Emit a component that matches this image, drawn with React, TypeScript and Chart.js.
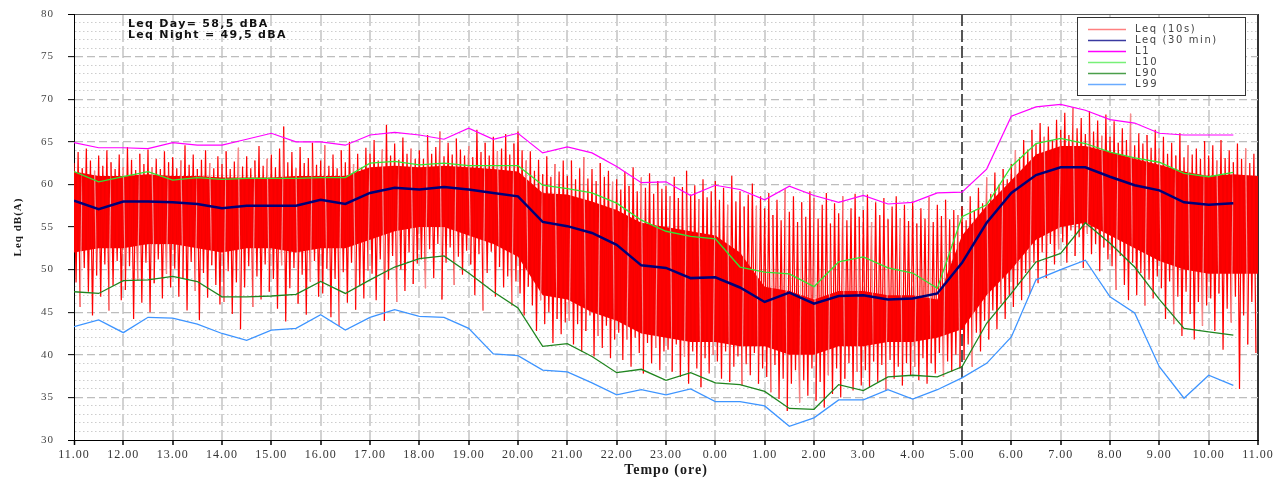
import React, { useEffect, useRef } from "react";
import { Chart, registerables } from "chart.js";

Chart.register(...registerables);

// ---- tick labels / texts ----
const hourLabels = [
  "11.00", "12.00", "13.00", "14.00", "15.00", "16.00", "17.00", "18.00", "19.00", "20.00",
  "21.00", "22.00", "23.00", "0.00", "1.00", "2.00", "3.00", "4.00", "5.00", "6.00",
  "7.00", "8.00", "9.00", "10.00", "11.00",
];
const yMajorTicks = [30, 35, 40, 45, 50, 55, 60, 65, 70, 75, 80];
const seriesNames = ["Leq (10s)", "Leq (30 min)", "L1", "L10", "L90", "L99"];
const infoLines = ["Leq Day= 58,5 dBA", "Leq Night = 49,5 dBA"];
const xTitle = "Tempo (ore)";
const yTitle = "Leq dB(A)";

// ---- 30-minute statistics (11:00 ... 10:30) ----
const leq30 = [
  58.1, 57.1, 58.0, 58.0, 57.9, 57.7, 57.2, 57.5, 57.5, 57.5, 58.2, 57.7,
  59.0, 59.6, 59.4, 59.7, 59.4, 59.0, 58.6, 55.6, 55.1, 54.3, 52.9, 50.5,
  50.2, 49.0, 49.1, 47.9, 46.2, 47.3, 46.0, 46.9, 47.0, 46.5, 46.6, 47.2,
  50.8, 55.5, 59.0, 61.1, 62.0, 62.0, 60.9, 59.9, 59.3, 57.9, 57.6, 57.8,
];
const l1 = [
  64.9, 64.3, 64.3, 64.2, 64.9, 64.6, 64.6, 65.3, 66.0, 65.0, 65.0, 64.6,
  65.8, 66.1, 65.8, 65.3, 66.6, 65.3, 66.0, 63.7, 64.4, 63.7, 62.1, 60.2,
  60.3, 58.7, 59.9, 59.4, 58.2, 59.8, 58.7, 57.9, 58.7, 57.7, 57.9, 59.0,
  59.1, 61.8, 68.0, 69.1, 69.4, 68.7, 67.6, 67.2, 66.0, 65.8, 65.8, 65.8,
];
const l10 = [
  61.5, 60.3, 60.9, 61.5, 60.5, 60.8, 60.6, 60.7, 60.7, 60.7, 60.8, 60.8,
  62.5, 62.7, 62.3, 62.5, 62.2, 62.2, 62.2, 59.9, 59.5, 59.0, 57.8, 55.8,
  54.5, 53.9, 53.6, 50.3, 49.7, 49.5, 48.0, 50.9, 51.5, 50.2, 49.6, 47.8,
  56.2, 57.6, 62.1, 64.8, 65.4, 64.8, 63.8, 63.1, 62.6, 61.3, 60.9, 61.4,
];
const l90 = [
  47.4, 47.2, 48.7, 48.8, 49.2, 48.6, 46.8, 46.8, 46.9, 47.1, 48.6, 47.2,
  48.8, 50.3, 51.3, 51.6, 49.6, 47.4, 45.5, 41.0, 41.3, 39.8, 37.9, 38.3,
  37.0, 37.9, 36.7, 36.5, 35.7, 33.7, 33.6, 36.5, 35.8, 37.4, 37.6, 37.4,
  38.6, 43.7, 47.2, 50.9, 51.9, 55.5, 53.1, 50.3, 46.5, 43.1, 42.7, 42.3,
];
const l99 = [
  43.3, 44.1, 42.6, 44.4, 44.3, 43.6, 42.5, 41.7, 42.9, 43.1, 44.7, 42.9,
  44.4, 45.3, 44.5, 44.4, 43.1, 40.1, 39.9, 38.2, 38.0, 36.7, 35.3, 35.9,
  35.3, 36.0, 34.5, 34.5, 34.0, 31.6, 32.6, 34.7, 34.7, 35.9, 34.8, 35.9,
  37.3, 39.0, 42.1, 48.8, 50.0, 51.1, 46.8, 44.9, 38.6, 34.9, 37.6, 36.4,
];

// ---- Leq (10s): dense core of the trace, per 30 min (11:00 ... 11:00) ----
const leq10sCoreHigh = [
  61.5, 61.0, 61.0, 61.2, 61.0, 61.0, 60.8, 60.8, 60.8, 61.0, 61.0, 61.0,
  62.0, 62.2, 62.0, 62.2, 62.0, 61.8, 61.5, 59.0, 58.8, 58.0, 57.0, 55.5,
  55.0, 54.5, 54.0, 52.0, 48.0, 47.5, 46.5, 47.5, 47.5, 47.0, 47.0, 46.5,
  54.0, 57.5, 60.5, 63.5, 64.5, 64.5, 63.8, 63.0, 62.3, 61.5, 61.0, 61.2, 61.0,
];
const leq10sCoreLow = [
  52.0, 52.5, 52.5, 53.0, 53.0, 52.5, 52.0, 52.5, 52.5, 52.0, 52.5, 52.5,
  53.5, 54.5, 55.0, 55.0, 54.0, 53.0, 51.5, 47.0, 46.5, 45.0, 44.0, 42.5,
  42.0, 41.5, 41.5, 41.0, 41.0, 40.0, 40.0, 41.0, 41.0, 41.5, 41.5, 42.0,
  43.0, 47.0, 50.0, 53.5, 55.0, 55.5, 54.0, 52.5, 51.0, 50.0, 49.5, 49.5, 49.5,
];
// ---- Leq (10s): spike extremes per 5 min (one row per hour, 11:00 ... 10:55) ----
const leq10sSpikeHigh = [
  62.5, 63.8, 61.9, 64.2, 62.8, 61.6, 63.4, 62.2, 64.0, 62.6, 61.8, 63.5,
  62.0, 64.4, 62.9, 61.7, 63.6, 62.4, 64.1, 62.0, 63.0, 61.8, 63.9, 62.6,
  63.2, 61.9, 62.8, 64.6, 62.3, 63.5, 61.8, 62.9, 64.0, 62.5, 61.9, 63.3,
  62.4, 63.9, 61.8, 62.7, 64.3, 62.1, 63.3, 61.9, 62.8, 64.5, 62.2, 63.0,
  63.5, 62.0, 64.2, 66.8, 62.6, 63.8, 61.9, 64.4, 62.5, 63.1, 64.9, 62.3,
  62.8, 64.6, 62.2, 63.5, 61.9, 64.0, 62.6, 65.0, 62.4, 63.6, 62.0, 64.3,
  63.6, 65.2, 62.8, 64.1, 67.0, 63.4, 64.8, 62.9, 65.5, 63.6, 64.2, 63.0,
  64.0, 63.0, 65.8, 63.6, 64.4, 66.2, 63.3, 64.9, 63.5, 65.4, 64.1, 63.4,
  64.5, 63.2, 66.4, 63.8, 64.9, 63.4, 65.6, 63.9, 64.2, 65.9, 63.5, 64.8,
  66.2, 64.0, 62.8, 63.9, 61.6, 62.9, 61.2, 63.3, 60.9, 62.4, 61.5, 62.8,
  61.0, 62.8, 60.6, 61.9, 63.2, 60.7, 61.8, 60.4, 62.5, 60.9, 61.6, 60.3,
  60.6, 59.4, 61.5, 59.8, 62.0, 59.2, 60.8, 59.6, 61.3, 58.9, 60.4, 59.5,
  59.8, 58.6, 60.9, 58.4, 59.7, 61.6, 58.8, 59.9, 58.3, 60.6, 58.5, 59.2,
  60.4, 58.2, 59.6, 57.6, 61.0, 58.0, 59.2, 57.4, 58.8, 60.1, 57.5, 58.6,
  57.2, 59.0, 56.4, 58.2, 55.8, 59.4, 56.8, 58.6, 55.6, 57.9, 56.2, 59.2,
  58.4, 56.0, 57.6, 59.0, 55.4, 57.8, 56.6, 58.6, 55.8, 57.2, 58.9, 56.2,
  57.0, 58.8, 55.6, 57.9, 56.4, 58.4, 55.9, 57.4, 58.6, 56.0, 57.6, 55.7,
  58.0, 55.4, 57.2, 56.0, 58.5, 55.6, 57.6, 56.3, 58.2, 55.9, 57.0, 56.4,
  57.4, 55.8, 58.6, 56.9, 59.6, 57.8, 60.8, 58.9, 61.4, 60.0, 61.8, 60.6,
  62.4, 64.0, 63.2, 65.2, 64.1, 66.4, 64.8, 67.2, 65.6, 66.8, 65.2, 67.6,
  66.4, 68.4, 65.8, 69.0, 66.6, 67.8, 65.9, 68.6, 66.2, 67.5, 65.7, 68.2,
  65.6, 67.4, 64.9, 66.6, 65.2, 68.3, 64.6, 66.0, 64.8, 65.8, 64.3, 66.4,
  64.2, 65.6, 63.6, 64.9, 63.4, 66.0, 63.2, 64.6, 63.5, 64.2, 63.0, 65.1,
  63.4, 64.6, 62.8, 65.2, 63.1, 64.0, 62.6, 64.8, 63.0, 64.2, 62.5, 63.6,
];
const leq10sSpikeLow = [
  48.5, 45.6, 50.2, 47.4, 44.6, 49.3, 46.8, 50.6, 45.2, 48.1, 51.0, 46.4,
  47.6, 50.4, 44.2, 48.8, 46.1, 50.8, 45.0, 48.4, 51.2, 46.6, 49.5, 47.9,
  50.1, 46.8, 49.0, 45.2, 50.9, 47.5, 44.1, 49.6, 46.7, 50.5, 48.2, 45.9,
  46.2, 49.8, 44.8, 48.5, 43.0, 47.9, 50.4, 45.6, 49.2, 46.5, 50.6, 47.4,
  48.9, 45.4, 50.5, 43.9, 47.8, 50.2, 46.0, 49.4, 44.7, 48.6, 51.0, 46.8,
  47.2, 50.1, 44.4, 48.9, 43.4, 49.7, 46.1, 50.8, 45.3, 48.2, 46.6, 49.9,
  49.5, 46.4, 51.2, 44.0, 48.8, 51.6, 46.2, 50.0, 47.5, 52.0, 48.3, 50.7,
  51.2, 47.8, 52.4, 49.0, 53.0, 46.5, 50.8, 52.6, 48.2, 51.5, 49.4, 52.2,
  50.6, 47.0, 51.8, 45.2, 49.6, 52.1, 46.8, 50.3, 47.9, 49.2, 45.8, 48.6,
  47.2, 44.6, 48.0, 45.8, 42.8, 46.4, 43.6, 45.0, 41.4, 44.2, 42.4, 43.8,
  44.0, 41.2, 43.6, 40.4, 42.8, 44.6, 39.8, 42.2, 40.8, 43.4, 39.6, 41.8,
  42.6, 39.4, 41.8, 38.6, 42.0, 40.2, 37.8, 41.4, 39.0, 40.8, 38.2, 40.4,
  40.6, 38.0, 41.2, 37.4, 39.8, 36.6, 40.4, 38.4, 36.2, 39.6, 37.8, 40.0,
  39.2, 37.2, 40.4, 36.8, 38.6, 39.8, 36.4, 38.9, 37.6, 40.2, 36.6, 38.4,
  37.4, 35.6, 38.8, 34.8, 37.2, 33.4, 36.6, 38.2, 34.4, 37.0, 35.2, 38.4,
  34.6, 36.8, 33.8, 37.6, 35.4, 38.4, 35.0, 37.2, 39.0, 35.8, 38.0, 36.4,
  38.2, 36.2, 39.2, 36.8, 38.8, 35.8, 39.4, 37.2, 38.6, 36.4, 39.0, 37.6,
  38.6, 37.0, 39.6, 36.6, 39.0, 37.8, 40.2, 37.4, 39.2, 38.0, 40.0, 38.4,
  39.4, 41.2, 38.6, 42.6, 40.4, 44.0, 41.8, 45.2, 43.0, 46.0, 44.2, 47.0,
  45.6, 48.2, 46.4, 49.6, 47.2, 50.8, 48.4, 52.0, 49.0, 53.0, 50.6, 52.4,
  53.2, 50.8, 54.6, 51.6, 53.8, 50.2, 54.2, 51.8, 53.0, 49.8, 52.6, 51.2,
  50.4, 47.6, 51.6, 48.2, 46.4, 50.8, 47.0, 49.6, 45.8, 48.8, 46.6, 49.2,
  47.8, 44.2, 48.6, 43.6, 46.8, 42.2, 47.4, 44.8, 41.8, 46.2, 43.4, 45.8,
  46.6, 42.8, 47.2, 40.6, 45.4, 43.8, 46.8, 36.0, 44.6, 41.2, 46.2, 40.2,
];

const SERIF = "'Liberation Serif', 'DejaVu Serif', serif";
const SANS = "'DejaVu Sans', 'Liberation Sans', Arial, sans-serif";

const halfHourPoints = (arr: number[]) => arr.map((v, i) => ({ x: i * 0.5, y: v }));
const spikePoints = leq10sSpikeHigh.flatMap((h, i) => [
  { x: i / 12, y: h },
  { x: i / 12 + 1 / 24, y: leq10sSpikeLow[i] },
]);

// slightly wider lettering for the axis texts (the source image is stretched horizontally)
const wideText = {
  id: "wideText",
  beforeDraw(chart: any) {
    chart.ctx.letterSpacing = "1px";
  },
  afterDraw(chart: any) {
    chart.ctx.letterSpacing = "0px";
  },
};

const boxLegend = {
  id: "boxLegend",
  afterDraw(chart: any) {
    const { ctx, chartArea } = chart;
    const items = chart.data.datasets.filter((d: any) => !String(d.label).startsWith("_"));
    const w = 168;
    const rowH = 11;
    const left = chartArea.right - 13 - w;
    const top = chartArea.top + 3;
    const h = items.length * rowH + 12;
    ctx.save();
    ctx.fillStyle = "#ffffff";
    ctx.fillRect(left, top, w, h);
    ctx.strokeStyle = "#333333";
    ctx.lineWidth = 1;
    ctx.strokeRect(Math.round(left) + 0.5, Math.round(top) + 0.5, w, h);
    ctx.font = `10px ${SANS}`;
    ctx.letterSpacing = "1.6px";
    ctx.textBaseline = "middle";
    ctx.textAlign = "left";
    items.forEach((d: any, i: number) => {
      const y = Math.round(top + 12 + i * rowH) + 0.5;
      ctx.strokeStyle = d.legendColor || d.borderColor;
      ctx.lineWidth = 1.5;
      ctx.beginPath();
      ctx.moveTo(left + 11, y);
      ctx.lineTo(left + 49, y);
      ctx.stroke();
      ctx.fillStyle = "#444444";
      ctx.fillText(d.label, left + 58, y);
    });
    ctx.restore();
  },
};

const infoText = {
  id: "infoText",
  afterDraw(chart: any) {
    const { ctx, chartArea } = chart;
    ctx.save();
    ctx.font = `bold 11px ${SANS}`;
    ctx.letterSpacing = "1.3px";
    ctx.fillStyle = "#111111";
    ctx.textBaseline = "middle";
    ctx.textAlign = "left";
    infoLines.forEach((t, i) => {
      ctx.fillText(t, chartArea.left + 54, chartArea.top + 10.5 + i * 10.5);
    });
    ctx.restore();
  },
};

export default function App() {
  const ref = useRef<HTMLCanvasElement | null>(null);

  useEffect(() => {
    if (!ref.current) return;
    const chart = new Chart(ref.current, {
      type: "line",
      data: {
        datasets: [
          {
            label: seriesNames[0],
            data: spikePoints,
            borderColor: "#ff0000",
            legendColor: "#ff8080",
            borderWidth: 1.2,
            pointRadius: 0,
            tension: 0,
            order: 8,
            segment: {
              borderColor: (c: any) => (c.p0DataIndex % 7 === 3 ? "#f58e8e" : "#ff0000"),
            },
          } as any,
          {
            label: "_coreLow",
            data: halfHourPoints(leq10sCoreLow),
            borderColor: "transparent",
            borderWidth: 0,
            pointRadius: 0,
            fill: false,
            order: 9,
          },
          {
            label: "_coreHigh",
            data: halfHourPoints(leq10sCoreHigh),
            borderColor: "transparent",
            borderWidth: 0,
            pointRadius: 0,
            backgroundColor: "#f50000",
            fill: "-1",
            order: 9,
          },
          {
            label: seriesNames[1],
            data: halfHourPoints(leq30),
            borderColor: "#000078",
            legendColor: "#3a3aa0",
            borderWidth: 2.5,
            pointRadius: 0,
            order: 1,
          } as any,
          {
            label: seriesNames[2],
            data: halfHourPoints(l1),
            borderColor: "#ff00ff",
            borderWidth: 1.2,
            pointRadius: 0,
            order: 5,
          },
          {
            label: seriesNames[3],
            data: halfHourPoints(l10),
            borderColor: "#33e333",
            legendColor: "#77f077",
            borderWidth: 1.3,
            pointRadius: 0,
            order: 4,
          } as any,
          {
            label: seriesNames[4],
            data: halfHourPoints(l90),
            borderColor: "#1f851f",
            legendColor: "#4a9e4a",
            borderWidth: 1.3,
            pointRadius: 0,
            order: 3,
          } as any,
          {
            label: seriesNames[5],
            data: halfHourPoints(l99),
            borderColor: "#3d94ff",
            legendColor: "#6aabff",
            borderWidth: 1.3,
            pointRadius: 0,
            order: 2,
          } as any,
        ],
      },
      options: {
        animation: false,
        responsive: true,
        maintainAspectRatio: false,
        layout: { padding: { left: 0, top: 14, right: 25, bottom: 0 } },
        plugins: { legend: { display: false }, tooltip: { enabled: false } },
        elements: { line: { tension: 0 } },
        scales: {
          x: {
            type: "linear",
            min: 0,
            max: 24,
            afterFit: (s: any) => {
              s.height = 39;
            },
            ticks: {
              stepSize: 1,
              autoSkip: false,
              maxRotation: 0,
              padding: 3,
              color: "#333333",
              font: { family: SERIF, size: 12 },
              callback: (v: any) => hourLabels[Math.round(Number(v))] ?? "",
            },
            grid: {
              color: (c: any) => {
                const v = c.tick ? c.tick.value : -1;
                if (v === 0) return "#000000";
                if (v === 24) return "#333333";
                if (v === 18) return "#555555";
                return "#d2d2d2";
              },
              lineWidth: (c: any) => {
                const v = c.tick ? c.tick.value : -1;
                if (v === 0) return 1;
                return 2;
              },
              tickColor: "#000000",
              tickLength: 5,
              tickWidth: 1.5,
            },
            border: {
              display: true,
              color: "#000000",
              width: 1,
              dash: (c: any) => {
                const v = c.tick ? c.tick.value : -1;
                if (v === 0 || v === 24 || v === -1) return [];
                return [12, 4];
              },
            },
            title: {
              display: true,
              text: xTitle,
              color: "#1a1a1a",
              font: { family: SERIF, size: 14, weight: "bold" },
              padding: { top: 0, bottom: 0 },
            },
          },
          y: {
            min: 30,
            max: 80,
            afterFit: (s: any) => {
              s.width = 74;
              s.paddingTop = 7;
              s.paddingBottom = 7;
            },
            ticks: {
              stepSize: 1,
              autoSkip: false,
              padding: 14,
              color: "#444444",
              font: { family: SERIF, size: 11 },
              callback: (v: any) => (yMajorTicks.includes(Number(v)) ? String(v) : ""),
            },
            grid: {
              color: (c: any) => {
                const v = c.tick ? c.tick.value : -1;
                if (v === 30) return "#000000";
                if (v === 80) return "#555555";
                return yMajorTicks.includes(v) ? "#bdbdbd" : "#cdcdcd";
              },
              lineWidth: (c: any) => {
                const v = c.tick ? c.tick.value : -1;
                return yMajorTicks.includes(v) && v !== 30 && v !== 80 ? 1.3 : 1;
              },
              tickColor: (c: any) => {
                const v = c.tick ? c.tick.value : -1;
                return yMajorTicks.includes(v) ? "#000000" : "rgba(0,0,0,0)";
              },
              tickLength: 6,
              tickWidth: 1,
            },
            border: {
              display: true,
              color: "#000000",
              width: 1,
              dash: (c: any) => {
                const v = c.tick ? c.tick.value : -1;
                if (v === -1 || v === 30 || v === 80) return [];
                return yMajorTicks.includes(v) ? [8, 4] : [1.5, 2.5];
              },
            },
            title: {
              display: true,
              text: yTitle,
              color: "#1a1a1a",
              font: { family: SERIF, size: 11, weight: "bold" },
              padding: { top: 12, bottom: 0 },
            },
          },
        },
      } as any,
      plugins: [wideText, infoText, boxLegend],
    });
    return () => chart.destroy();
  }, []);

  return (
    <div
      style={{
        position: "fixed",
        left: 0,
        top: 0,
        width: 1283,
        height: 479,
        background: "#ffffff",
      }}
    >
      <canvas ref={ref} />
    </div>
  );
}
